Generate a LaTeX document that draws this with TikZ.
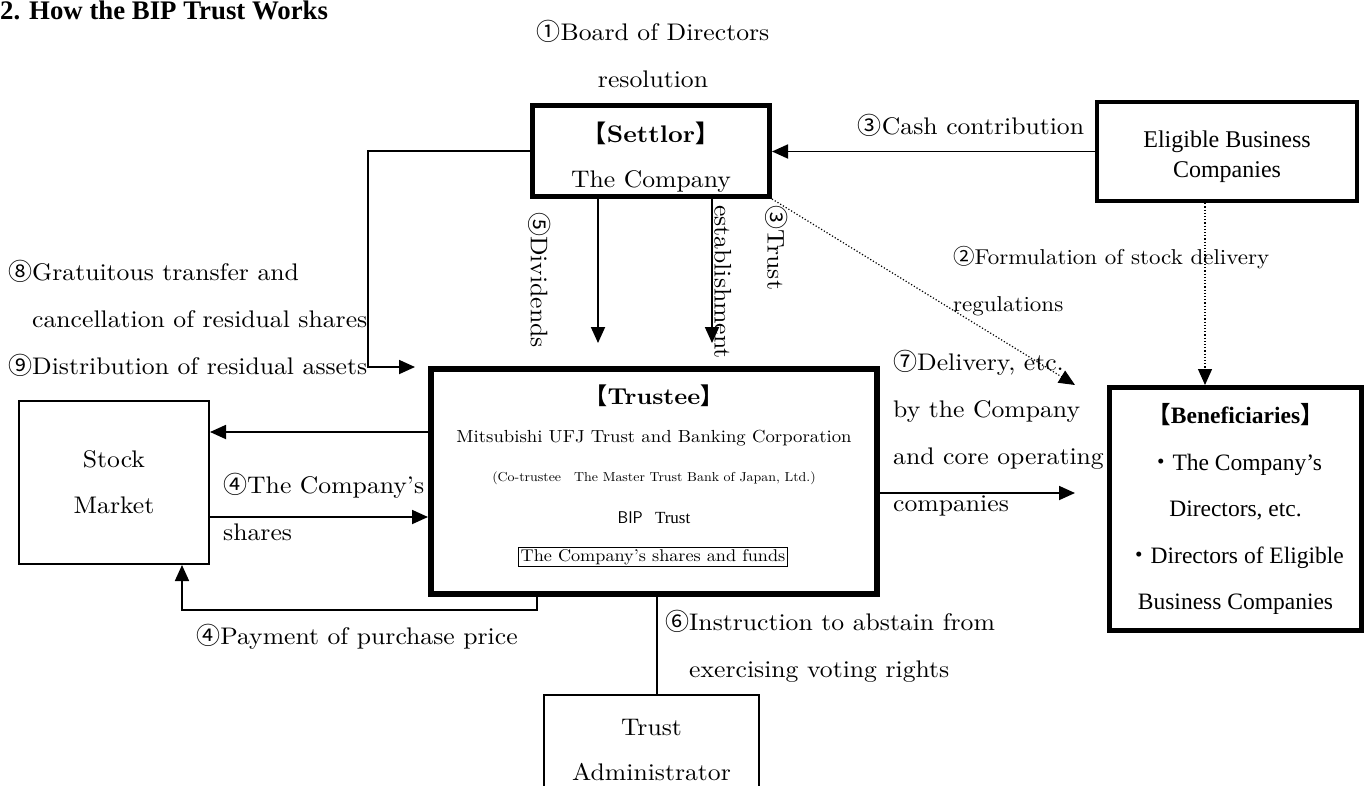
\documentclass[tikz,border=0pt]{standalone}
\usepackage{fontspec}
\setmainfont{lmroman10-regular.otf}[BoldFont=lmroman10-bold.otf, ItalicFont=lmroman10-italic.otf, FakeStretch=1.07]
\usetikzlibrary{arrows.meta,positioning}
\newfontfamily\cjk{Noto Sans CJK JP}
\newfontfamily\timesf{Liberation Serif}
\newcommand\cnum[1]{{\cjk #1}}

\begin{document}
\begin{tikzpicture}[x=1pt,y=-1pt,
  box/.style={draw, line width=5pt, align=center, inner sep=0pt, font=\fontsize{24}{45}\selectfont},
  plainbox/.style={draw, line width=2pt, align=center, inner sep=0pt, font=\fontsize{24}{46}\selectfont},
  lbl/.style={font=\fontsize{24}{47}\selectfont, align=left, inner sep=0pt},
  flow/.style={line width=1.8pt},
  dots/.style={line width=1.2pt, dotted},
  >={Triangle[length=16pt,width=14pt]}]
\useasboundingbox (0,0) rectangle (1364,785);

% title
\node[font=\timesf\bfseries\fontsize{26.8}{27}\selectfont, anchor=base west, inner sep=0pt] (title) at (0,19.5) {2. How the BIP Trust Works};

% boxes
\node[box, minimum width=237, minimum height=91] (settlor) at (651,151) {\rule{0pt}{33pt}{\bfseries\cnum{【}Settlor\cnum{】}}\\The Company};
\node[box, line width=4.5pt, minimum width=260, minimum height=99, font=\timesf\fontsize{24}{30}\selectfont] (elig) at (1227,151.5) {\rule{0pt}{28pt}Eligible Business\\Companies};
\node[box, line width=6pt, minimum width=446, minimum height=225] (trustee) at (654,481.5) {};
\node[plainbox, minimum width=190, minimum height=163] (market) at (114,482.5) {Stock\\Market};
\node[box, minimum width=252, minimum height=243, font=\timesf\fontsize{23.5}{46.5}\selectfont] (benef) at (1235.5,509) {{\bfseries\cnum{【}Beneficiaries\cnum{】}}\\\cnum{・}The Company’s\\Directors, etc.\\\cnum{・}Directors of Eligible\\Business Companies};
\node[plainbox, minimum width=215, minimum height=110, font=\fontsize{24}{45}\selectfont] (admin) at (651.5,750) {Trust\\Administrator};

% trustee contents
\node[font=\bfseries\fontsize{23}{23}\selectfont] (ttitle) at (654,396) {\cnum{【}Trustee\cnum{】}};
\node[font=\fontsize{17.5}{17}\selectfont] (tbank) at (654,438) {Mitsubishi UFJ Trust and Banking Corporation};
\node[font=\fontsize{13}{13}\selectfont] (tco) at (654,478) {(Co-trustee\quad The Master Trust Bank of Japan, Ltd.)};
\node[font=\fontsize{17}{16}\selectfont] (tbip) at (654,518) {{\sffamily BIP}\ \ {\timesf Trust}};
\node[draw, line width=1.5pt, inner sep=2pt, font=\fontsize{17}{16}\selectfont] (funds) at (653,557) {The Company’s shares and funds};

% helper points
\coordinate (in9) at (415,367);
\coordinate (div) at (598,343);
\coordinate (est) at (712,343);
\coordinate (dlv) at (1075,385);
\coordinate (dlv2) at (1075,493);
\coordinate (reg) at (1205,0);
\coordinate (y432) at (0,432);
\coordinate (y517) at (0,517);
\coordinate (x537) at (537,0);
\coordinate (x182) at (182,0);
\coordinate (x657) at (657,0);

% connectors
\draw[->, flow] (elig.west) -- (settlor.east |- elig.west);
\draw[->, flow] (settlor.west) -| (368,367) -- (in9);
\draw[->, flow] (settlor.south -| div) -- (div);
\draw[->, flow] (settlor.south -| est) -- (est);
\draw[->, dots] (settlor.south east) -- (dlv);
\draw[->, dots] (elig.south -| reg) -- (benef.north -| reg);
\draw[->, flow] (trustee.west |- y432) -- (market.east |- y432);
\draw[->, flow] (market.east |- y517) -- (trustee.west |- y517);
\draw[->, flow] (trustee.south -| x537) -- ++(0,13) -| (market.south -| x182);
\draw[flow] (trustee.south -| x657) -- (admin.north -| x657);
\draw[->, flow] (trustee.east |- dlv2) -- (dlv2);

% labels
\node[lbl, align=center] (board) at (653,54) {\cnum{①}Board of Directors\\resolution};
\node[lbl] (cash) at (971,125) {\cnum{③}Cash contribution};
\node[lbl, rotate=-90, anchor=west] (divl) at (540,212) {\cnum{⑤}Dividends};
\node[lbl, rotate=-90, anchor=north west, font=\fontsize{24}{53}\selectfont] (estl) at (788,205) {\cnum{③}Trust\\establishment};
\node[lbl, anchor=west, font=\fontsize{21.5}{47}\selectfont] (form) at (953,281) {\cnum{②}Formulation of stock delivery\\regulations};
\node[lbl, anchor=west] (grat) at (8,318) {\cnum{⑧}Gratuitous transfer and\\\phantom{\cnum{⑧}}cancellation of residual shares\\\cnum{⑨}Distribution of residual assets};
\node[lbl, anchor=west] (buy) at (223,507) {\cnum{④}The Company’s\\shares};
\node[lbl] (pay) at (357,637) {\cnum{④}Payment of purchase price};
\node[lbl, anchor=west] (vote) at (665,646) {\cnum{⑥}Instruction to abstain from\\\phantom{\cnum{⑥}}exercising voting rights};
\node[lbl, anchor=west] (dell) at (893,433) {\cnum{⑦}Delivery, etc.\\by the Company\\and core operating\\companies};
\end{tikzpicture}
\end{document}
